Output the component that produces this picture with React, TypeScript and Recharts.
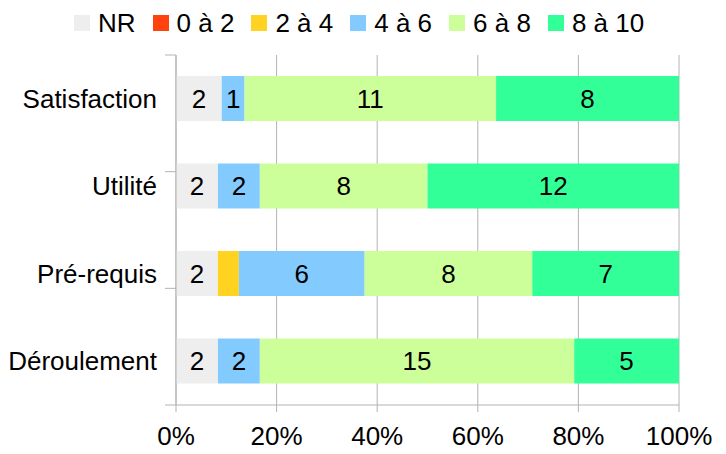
import React from "react";
import {
  BarChart,
  Bar,
  XAxis,
  YAxis,
  CartesianGrid,
  LabelList,
} from "recharts";

const categories = ["Satisfaction", "Utilité", "Pré-requis", "Déroulement"];
const nr = [2, 2, 2, 2];
const r0to2 = [0, 0, 0, 0];
const r2to4 = [0, 0, 1, 0];
const r4to6 = [1, 2, 6, 2];
const r6to8 = [11, 8, 8, 15];
const r8to10 = [8, 12, 7, 5];
const xTicks = [0, 0.2, 0.4, 0.6, 0.8, 1];

const series = [
  { key: "nr", name: "NR", values: nr, color: "#eeeeee", labels: true },
  { key: "r0to2", name: "0 à 2", values: r0to2, color: "#ff420e", labels: true },
  { key: "r2to4", name: "2 à 4", values: r2to4, color: "#ffd320", labels: false },
  { key: "r4to6", name: "4 à 6", values: r4to6, color: "#83caff", labels: true },
  { key: "r6to8", name: "6 à 8", values: r6to8, color: "#ccff99", labels: true },
  { key: "r8to10", name: "8 à 10", values: r8to10, color: "#33ff99", labels: true },
];

const data = categories.map((name, i) => {
  const row: Record<string, string | number> = { name };
  series.forEach((s) => {
    row[s.key] = s.values[i];
  });
  return row;
});

const FONT = '"Liberation Sans", Arial, sans-serif';
const FS = 26;
const GRID = "#b3b3b3";

const NoTick = () => <g />;

const Legend = () => (
  <div
    style={{
      position: "absolute",
      left: 74,
      top: 7,
      height: 32,
      display: "flex",
      alignItems: "center",
      fontFamily: FONT,
      fontSize: FS,
      color: "#000",
      whiteSpace: "nowrap",
    }}
  >
    {series.map((s) => (
      <div
        key={s.key}
        style={{ display: "flex", alignItems: "center", marginRight: 17 }}
      >
        <span
          style={{
            display: "inline-block",
            width: 16,
            height: 16,
            background: s.color,
            marginRight: 8,
          }}
        />
        <span>{s.name}</span>
      </div>
    ))}
  </div>
);

export default function App() {
  return (
    <div
      style={{
        position: "absolute",
        left: 0,
        top: 0,
        width: 726,
        height: 454,
        background: "#fff",
        fontFamily: FONT,
      }}
    >
      <Legend />
      <BarChart
        width={726}
        height={454}
        data={data}
        layout="vertical"
        stackOffset="expand"
        margin={{ top: 55, right: 47, left: 0, bottom: 0 }}
      >
        <CartesianGrid horizontal={false} stroke={GRID} />
        <XAxis
          type="number"
          domain={[0, 1]}
          ticks={xTicks}
          tickFormatter={(v: number) => `${Math.round(v * 100)}%`}
          height={49}
          tickSize={7}
          tickMargin={15}
          axisLine={{ stroke: GRID }}
          tickLine={{ stroke: GRID }}
          tick={{ fill: "#000", fontSize: FS, fontFamily: FONT }}
        />
        <XAxis
          xAxisId="top"
          orientation="top"
          type="number"
          domain={[0, 1]}
          height={0}
          tick={false}
          tickLine={false}
          axisLine={{ stroke: GRID }}
        />
        <YAxis
          yAxisId="bounds"
          type="number"
          domain={[0, 4]}
          ticks={[0, 1, 2, 3, 4]}
          width={11}
          tickSize={11}
          tick={NoTick}
          axisLine={{ stroke: GRID }}
          tickLine={{ stroke: GRID }}
        />
        <YAxis
          yAxisId="cat"
          type="category"
          dataKey="name"
          width={165}
          tickSize={0}
          tickMargin={8}
          axisLine={false}
          tickLine={false}
          tick={{ fill: "#000", fontSize: FS, fontFamily: FONT }}
        />
        {series.map((s) => (
          <Bar
            key={s.key}
            dataKey={s.key}
            name={s.name}
            yAxisId="cat"
            stackId="a"
            fill={s.color}
            barSize={45}
            isAnimationActive={false}
          >
            {s.labels && (
              <LabelList
                dataKey={s.key}
                position="center"
                fill="#000"
                fontSize={FS}
                fontFamily={FONT}
                formatter={(v: number) => (v ? v : "")}
              />
            )}
          </Bar>
        ))}
      </BarChart>
    </div>
  );
}
